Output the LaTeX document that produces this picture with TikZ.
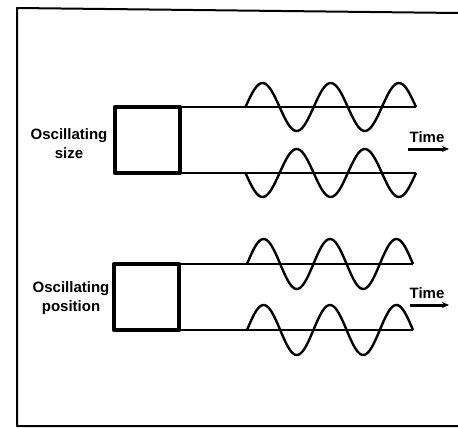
\documentclass[tikz,border=0pt]{standalone}
\usepackage{fontspec}
\setmainfont{Liberation Sans}
\usetikzlibrary{arrows.meta}
\begin{document}
\begin{tikzpicture}[x=1pt,y=-1pt,
  frame/.style={line width=2pt,line join=round},
  sqbox/.style={draw,line width=4.5pt,inner sep=0pt,outer sep=0pt,minimum width=65pt,minimum height=66pt,line join=round},
  signal/.style={line width=2.5pt},
  wave/.style={line width=2.4pt,line join=round},
  lbl/.style={font=\bfseries\fontsize{15}{19}\selectfont,align=center,inner sep=0pt},
  timearrow/.style={line width=3pt,-{Stealth[length=7pt,width=6pt]}}]
\useasboundingbox (0,0) rectangle (458,428);

% outer frame (open on the right)
\coordinate (fbl) at (17,426);
\coordinate (ftl) at (17,8);
\coordinate (ftr) at (458,13);
\coordinate (fbr) at (458,426);
\draw[frame] (fbr) -- (fbl) -- (ftl) -- (ftr);

% ---- oscillating size ----
\node[sqbox] (boxA) at (147.5,140) {};
\coordinate (aTop) at (416,107);
\coordinate (aBot) at (416,173);
\draw[signal] (boxA.north east) -- (aTop);
\draw[signal] (boxA.south east) -- (aBot);
\draw[wave] plot[domain=0:900,samples=121] ({245.5+\x/360*68.2},{107-24*sin(\x)});
\draw[wave] plot[domain=0:900,samples=121] ({245.5+\x/360*68.2},{173+24*sin(\x)});
\node[lbl] (labA) at (69,143.5) {Oscillating\\size};
\node[lbl] (timeA) at (427,137) {Time};
\coordinate (tA1) at (408,149);
\coordinate (tA2) at (449,149);
\draw[timearrow] (tA1) -- (tA2);

% ---- oscillating position ----
\node[sqbox] (boxB) at (146.5,297) {};
\coordinate (bTop) at (413,264);
\coordinate (bBot) at (413,330);
\draw[signal] (boxB.north east) -- (bTop);
\draw[signal] (boxB.south east) -- (bBot);
\draw[wave] plot[domain=0:900,samples=121] ({247+\x/360*66.4},{264-25*sin(\x)});
\draw[wave] plot[domain=0:900,samples=121] ({247+\x/360*66.4},{330-25*sin(\x)});
\node[lbl] (labB) at (71,298) {Oscillating\\position};
\node[lbl] (timeB) at (427,293) {Time};
\coordinate (tB1) at (410,305);
\coordinate (tB2) at (449,305);
\draw[timearrow] (tB1) -- (tB2);
\end{tikzpicture}
\end{document}
